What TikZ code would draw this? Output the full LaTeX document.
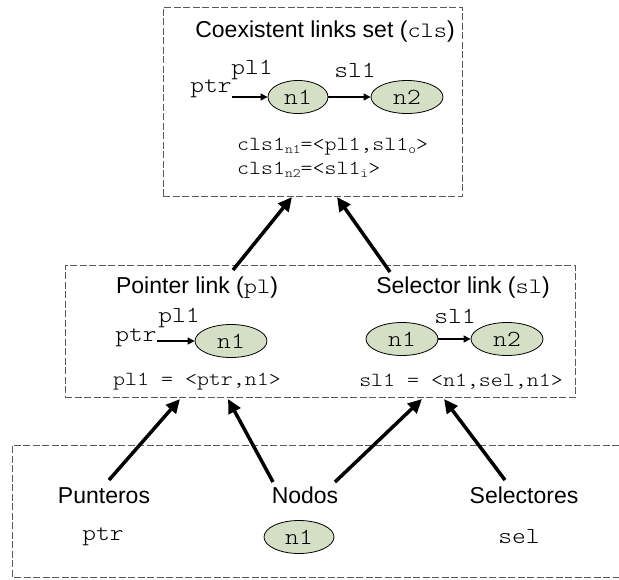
\documentclass[tikz,border=0pt]{standalone}
\usepackage{fontspec}
\setmainfont{Liberation Sans}
\newfontfamily\monof[FakeStretch=1.14]{lmmonolt10-regular.otf}
\usetikzlibrary{arrows.meta,shapes.geometric}
\definecolor{nodefill}{HTML}{D5DFC5}
\definecolor{boxline}{HTML}{5A5A5A}
\newcommand{\ssf}{\fontsize{23}{27}\selectfont}
\newcommand{\mtt}[1]{{\monof\fontsize{22}{26}\selectfont #1}}
\newcommand{\subtt}[1]{\raisebox{-0.3ex}{\monof\fontsize{13}{13}\selectfont #1}}
\tikzset{
  dbox/.style={draw=boxline, line width=0.8pt, dash pattern=on 7pt off 2.5pt},
  elnode/.style={ellipse, draw=black, line width=0.8pt, fill=nodefill, inner sep=0pt, minimum width=72pt, minimum height=33pt, font=\monof\fontsize{23}{26}\selectfont},
  title/.style={font=\ssf, inner sep=0pt, anchor=base},
  mono/.style={font=\monof\fontsize{23}{26}\selectfont, inner sep=0pt},
  defn/.style={font=\monof\fontsize{20}{24}\selectfont, inner sep=0pt},
  clsline/.style={font=\monof\fontsize{20}{24}\selectfont, inner sep=0pt, anchor=west},
  thin arrow/.style={line width=1.2pt, -{Triangle[length=7pt,width=7pt]}},
  big arrow/.style={line width=3.5pt, -{Triangle[length=14pt,width=13pt]}}
}
\begin{document}
\begin{tikzpicture}[x=1pt,y=-1pt]
\useasboundingbox (0,0) rectangle (619,579);
% boxes
\node[dbox, minimum width=299pt, minimum height=189pt, inner sep=0pt] (top) at (312.5,101.5) {};
\node[dbox, minimum width=510pt, minimum height=132pt, inner sep=0pt] (mid) at (320,331) {};
\draw[dbox] (619,445) -- (12,445) -- (12,577) -- (619,577);
% top box content
\node[title] (tt) at (325,37) {Coexistent links set (\mtt{cls})};
\node[mono] (tptr) at (211,89) {ptr};
\node[elnode, minimum width=60pt] (tn1) at (298,97) {n1};
\node[elnode] (tn2) at (407,97) {n2};
\node[mono] (tpl) at (252,70) {pl1};
\node[mono] (tsl) at (355,70) {sl1};
\draw[thin arrow] (tptr.east |- tn1.west) -- (tn1.west);
\draw[thin arrow] (tn1.east) -- (tn2.west);
\node[clsline] (c1) at (237,147) {cls1\subtt{n1}=<pl1,sl1\subtt{o}>};
\node[clsline] (c2) at (237,170) {cls1\subtt{n2}=<sl1\subtt{i}>};
% middle left
\node[title] (pt) at (197,293) {Pointer link (\mtt{pl})};
\node[mono] (mpl) at (179,318) {pl1};
\node[mono] (mptr) at (136,338) {ptr};
\node[elnode] (mn1) at (231,341) {n1};
\draw[thin arrow] (mptr.east |- mn1.west) -- (mn1.west);
\node[defn] (pdef) at (197,382) {pl1 = <ptr,n1>};
% middle right
\node[title] (st) at (463,293) {Selector link (\mtt{sl})};
\node[mono] (msl) at (455,316) {sl1};
\node[elnode] (sn1) at (402,339) {n1};
\node[elnode] (sn2) at (507,339) {n2};
\draw[thin arrow] (sn1.east) -- (sn2.west);
\node[defn] (sdef) at (461,382) {sl1 = <n1,sel,n1>};
% bottom
\node[title] (punt) at (104,503) {Punteros};
\node[title] (nod) at (305,503) {Nodos};
\node[title] (sel) at (524,503) {Selectores};
\node[mono] (bptr) at (103,537) {ptr};
\node[elnode, minimum width=70pt, minimum height=33pt] (bn1) at (299,537) {n1};
\node[mono] (bsel) at (519,537) {sel};
% arrow endpoints
\coordinate (a1s) at (233,270); \coordinate (a1e) at (292,197);
\coordinate (a2s) at (390,272); \coordinate (a2e) at (337,197);
\coordinate (b1s) at (109,480); \coordinate (b1e) at (180,399);
\coordinate (b2s) at (273,482); \coordinate (b2e) at (228,399);
\coordinate (b3s) at (335,482); \coordinate (b3e) at (422,399);
\coordinate (b4s) at (505,480); \coordinate (b4e) at (444,399);
\draw[big arrow] (a1s) -- (a1e);
\draw[big arrow] (a2s) -- (a2e);
\draw[big arrow] (b1s) -- (b1e);
\draw[big arrow] (b2s) -- (b2e);
\draw[big arrow] (b3s) -- (b3e);
\draw[big arrow] (b4s) -- (b4e);
\end{tikzpicture}
\end{document}
